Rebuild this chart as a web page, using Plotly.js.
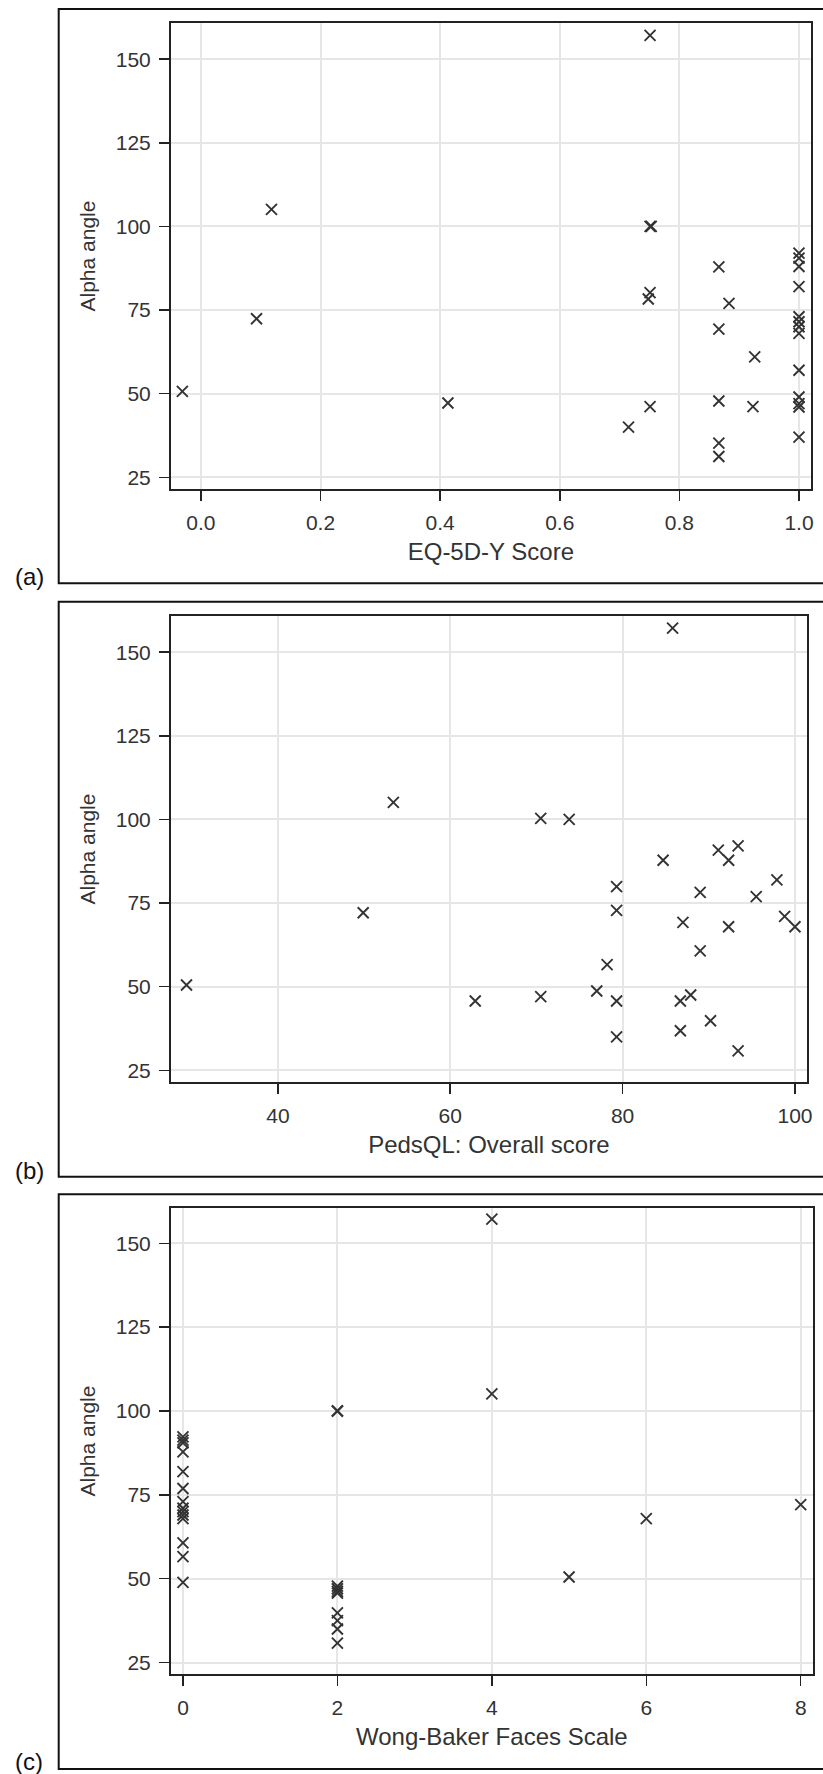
<!DOCTYPE html>
<html>
<head>
<meta charset="utf-8">
<script src="https://cdn.plot.ly/plotly-3.0.1.min.js"></script>
<style>
  html, body { margin: 0; padding: 0; background: #ffffff; }
  #chart { width: 823px; height: 1774px; }
</style>
</head>
<body>
<div id="chart"></div>
<script>
// ---- Data ----
// Panel (a): EQ-5D-Y score vs alpha angle
const eqScore = [0.751, 0.118, 0.751, 0.753, 0.866, 1.0, 1.0, 1.0, 1.0, 1.0, 1.0, 1.0, 1.0, 1.0, 1.0, 1.0, 1.0, 1.0,
                 0.751, 0.748, 0.883, 0.093, 0.866, 0.926, -0.031, 0.413, 0.751, 0.866, 0.923, 0.715, 0.866, 0.866];
const eqAlpha = [157.1, 105.1, 100.0, 100.0, 87.9, 92.0, 90.5, 88.0, 82.0, 73.0, 71.5, 70.0, 68.0, 57.0, 49.0, 47.0, 46.0, 37.0,
                 80.2, 78.3, 77.0, 72.4, 69.3, 61.0, 50.7, 47.2, 46.1, 47.8, 46.1, 40.0, 35.2, 31.2];

// Panel (b): PedsQL overall score vs alpha angle
const pedsScore = [85.8, 53.4, 70.5, 73.8, 84.7, 91.1, 93.4, 92.3, 97.9, 79.3, 89.0, 95.5, 79.3, 98.8, 100.0, 87.0,
                   92.3, 49.9, 89.0, 78.2, 29.4, 77.0, 70.5, 62.9, 79.3, 86.7, 87.9, 90.2, 86.7, 79.3, 93.4];
const pedsAlpha = [157.2, 105.1, 100.3, 100.0, 87.8, 90.8, 92.1, 87.8, 81.9, 79.9, 78.2, 76.9, 72.8, 71.0, 67.9, 69.2,
                   67.9, 72.1, 60.7, 56.6, 50.5, 48.7, 47.0, 45.7, 45.7, 45.7, 47.5, 39.8, 36.8, 35.0, 30.8];

// Panel (c): Wong-Baker Faces Scale vs alpha angle
const wbScore = [0, 0, 0, 0, 0, 0, 0, 0, 0, 0, 0, 0, 0, 0,
                 2, 2, 2, 2, 2, 2, 2, 2, 2, 2,
                 4, 4, 5, 6, 8];
const wbAlpha = [92.3, 91.3, 90.5, 87.8, 81.9, 76.9, 73.0, 71.0, 70.0, 69.0, 67.9, 60.7, 56.6, 48.9,
                 100.0, 100.0, 47.8, 47.0, 46.2, 45.7, 39.8, 37.5, 35.0, 30.8,
                 157.2, 105.1, 50.5, 67.9, 72.1];

// Axis tick labels
const eqTicks = [0.0, 0.2, 0.4, 0.6, 0.8, 1.0];
const eqTickText = ['0.0', '0.2', '0.4', '0.6', '0.8', '1.0'];
const pedsTicks = [40, 60, 80, 100];
const wbTicks = [0, 2, 4, 6, 8];
const alphaTicks = [25, 50, 75, 100, 125, 150];

const xTitles = ['EQ-5D-Y Score', 'PedsQL: Overall score', 'Wong-Baker Faces Scale'];
const yTitle = 'Alpha angle';
const panelLabels = ['(a)', '(b)', '(c)'];

// ---- Layout helpers (pixels -> paper fractions) ----
const W = 823, H = 1774;
const fx = px => px / W;
const fy = py => 1 - py / H;

const FONT = 'Liberation Sans, Arial, Helvetica, sans-serif';
const TXT = '#333333';

function xAxis(domainPx, range, tickvals, ticktext, title) {
  const ax = {
    domain: [fx(domainPx[0]), fx(domainPx[1])],
    range: range,
    tickmode: 'array',
    tickvals: tickvals,
    showline: true, mirror: true, linecolor: '#222222', linewidth: 2,
    ticks: 'outside', ticklen: 10, tickwidth: 1.5, tickcolor: '#222222',
    showgrid: true, gridcolor: '#e6e6e6', gridwidth: 2,
    zeroline: false,
    tickfont: {family: FONT, size: 21, color: TXT},
    ticklabelstandoff: 3,
    title: {text: title, font: {family: FONT, size: 24, color: TXT}, standoff: 11},
    fixedrange: true
  };
  if (ticktext) ax.ticktext = ticktext;
  return ax;
}
function yAxis(domainPx, range) {
  return {
    domain: [fy(domainPx[1]), fy(domainPx[0])],
    range: range,
    tickmode: 'array',
    tickvals: alphaTicks,
    showline: true, mirror: true, linecolor: '#222222', linewidth: 2,
    ticks: 'outside', ticklen: 10, tickwidth: 1.5, tickcolor: '#222222',
    showgrid: true, gridcolor: '#e6e6e6', gridwidth: 2,
    zeroline: false,
    tickfont: {family: FONT, size: 21, color: TXT},
    ticklabelstandoff: 4,
    title: {text: yTitle, font: {family: FONT, size: 21, color: TXT}, standoff: 14},
    fixedrange: true
  };
}

const marker = {symbol: 'x-thin', size: 11, color: '#333333', line: {width: 1.9, color: '#333333'}};

const traces = [
  {x: eqScore, y: eqAlpha, xaxis: 'x', yaxis: 'y', type: 'scatter', mode: 'markers', marker: marker, hoverinfo: 'x+y'},
  {x: pedsScore, y: pedsAlpha, xaxis: 'x2', yaxis: 'y2', type: 'scatter', mode: 'markers', marker: marker, hoverinfo: 'x+y'},
  {x: wbScore, y: wbAlpha, xaxis: 'x3', yaxis: 'y3', type: 'scatter', mode: 'markers', marker: marker, hoverinfo: 'x+y'}
];

// Panel frames (outer boxes) in pixel coords: [top, bottom]
const boxes = [[9, 583.3], [601.7, 1176.7], [1194.3, 1769]];
const labelY = [576, 1170, 1761];

const shapes = boxes.map(b => ({
  type: 'rect', xref: 'paper', yref: 'paper',
  x0: fx(58.7), x1: 1.05, y0: fy(b[1]), y1: fy(b[0]),
  line: {color: '#111111', width: 2}, fillcolor: 'rgba(0,0,0,0)', layer: 'below'
}));

const annotations = panelLabels.map((t, i) => ({
  text: t, xref: 'paper', yref: 'paper', x: fx(29), y: fy(labelY[i]),
  xanchor: 'center', yanchor: 'middle', showarrow: false,
  font: {family: FONT, size: 24, color: '#111111'}
}));

const layout = {
  width: W, height: H,
  margin: {l: 0, r: 0, t: 0, b: 0, pad: 0},
  paper_bgcolor: '#ffffff', plot_bgcolor: '#ffffff',
  showlegend: false,
  xaxis:  xAxis([171, 810.7], [-0.050, 1.0196], eqTicks, eqTickText, xTitles[0]),
  yaxis:  yAxis([22.7, 489.3], [21.4, 160.9]),
  xaxis2: xAxis([171, 806.7], [27.6, 101.36], pedsTicks, null, xTitles[1]),
  yaxis2: yAxis([615.7, 1082.3], [21.4, 160.9]),
  xaxis3: xAxis([171, 812.7], [-0.155, 8.155], wbTicks, null, xTitles[2]),
  yaxis3: yAxis([1207.7, 1674.3], [21.5, 160.6]),
  shapes: shapes,
  annotations: annotations
};
layout.yaxis.anchor = 'x';  layout.xaxis.anchor = 'y';
layout.yaxis2.anchor = 'x2'; layout.xaxis2.anchor = 'y2';
layout.yaxis3.anchor = 'x3'; layout.xaxis3.anchor = 'y3';

Plotly.newPlot('chart', traces, layout, {displayModeBar: false, staticPlot: true});
</script>
</body>
</html>
